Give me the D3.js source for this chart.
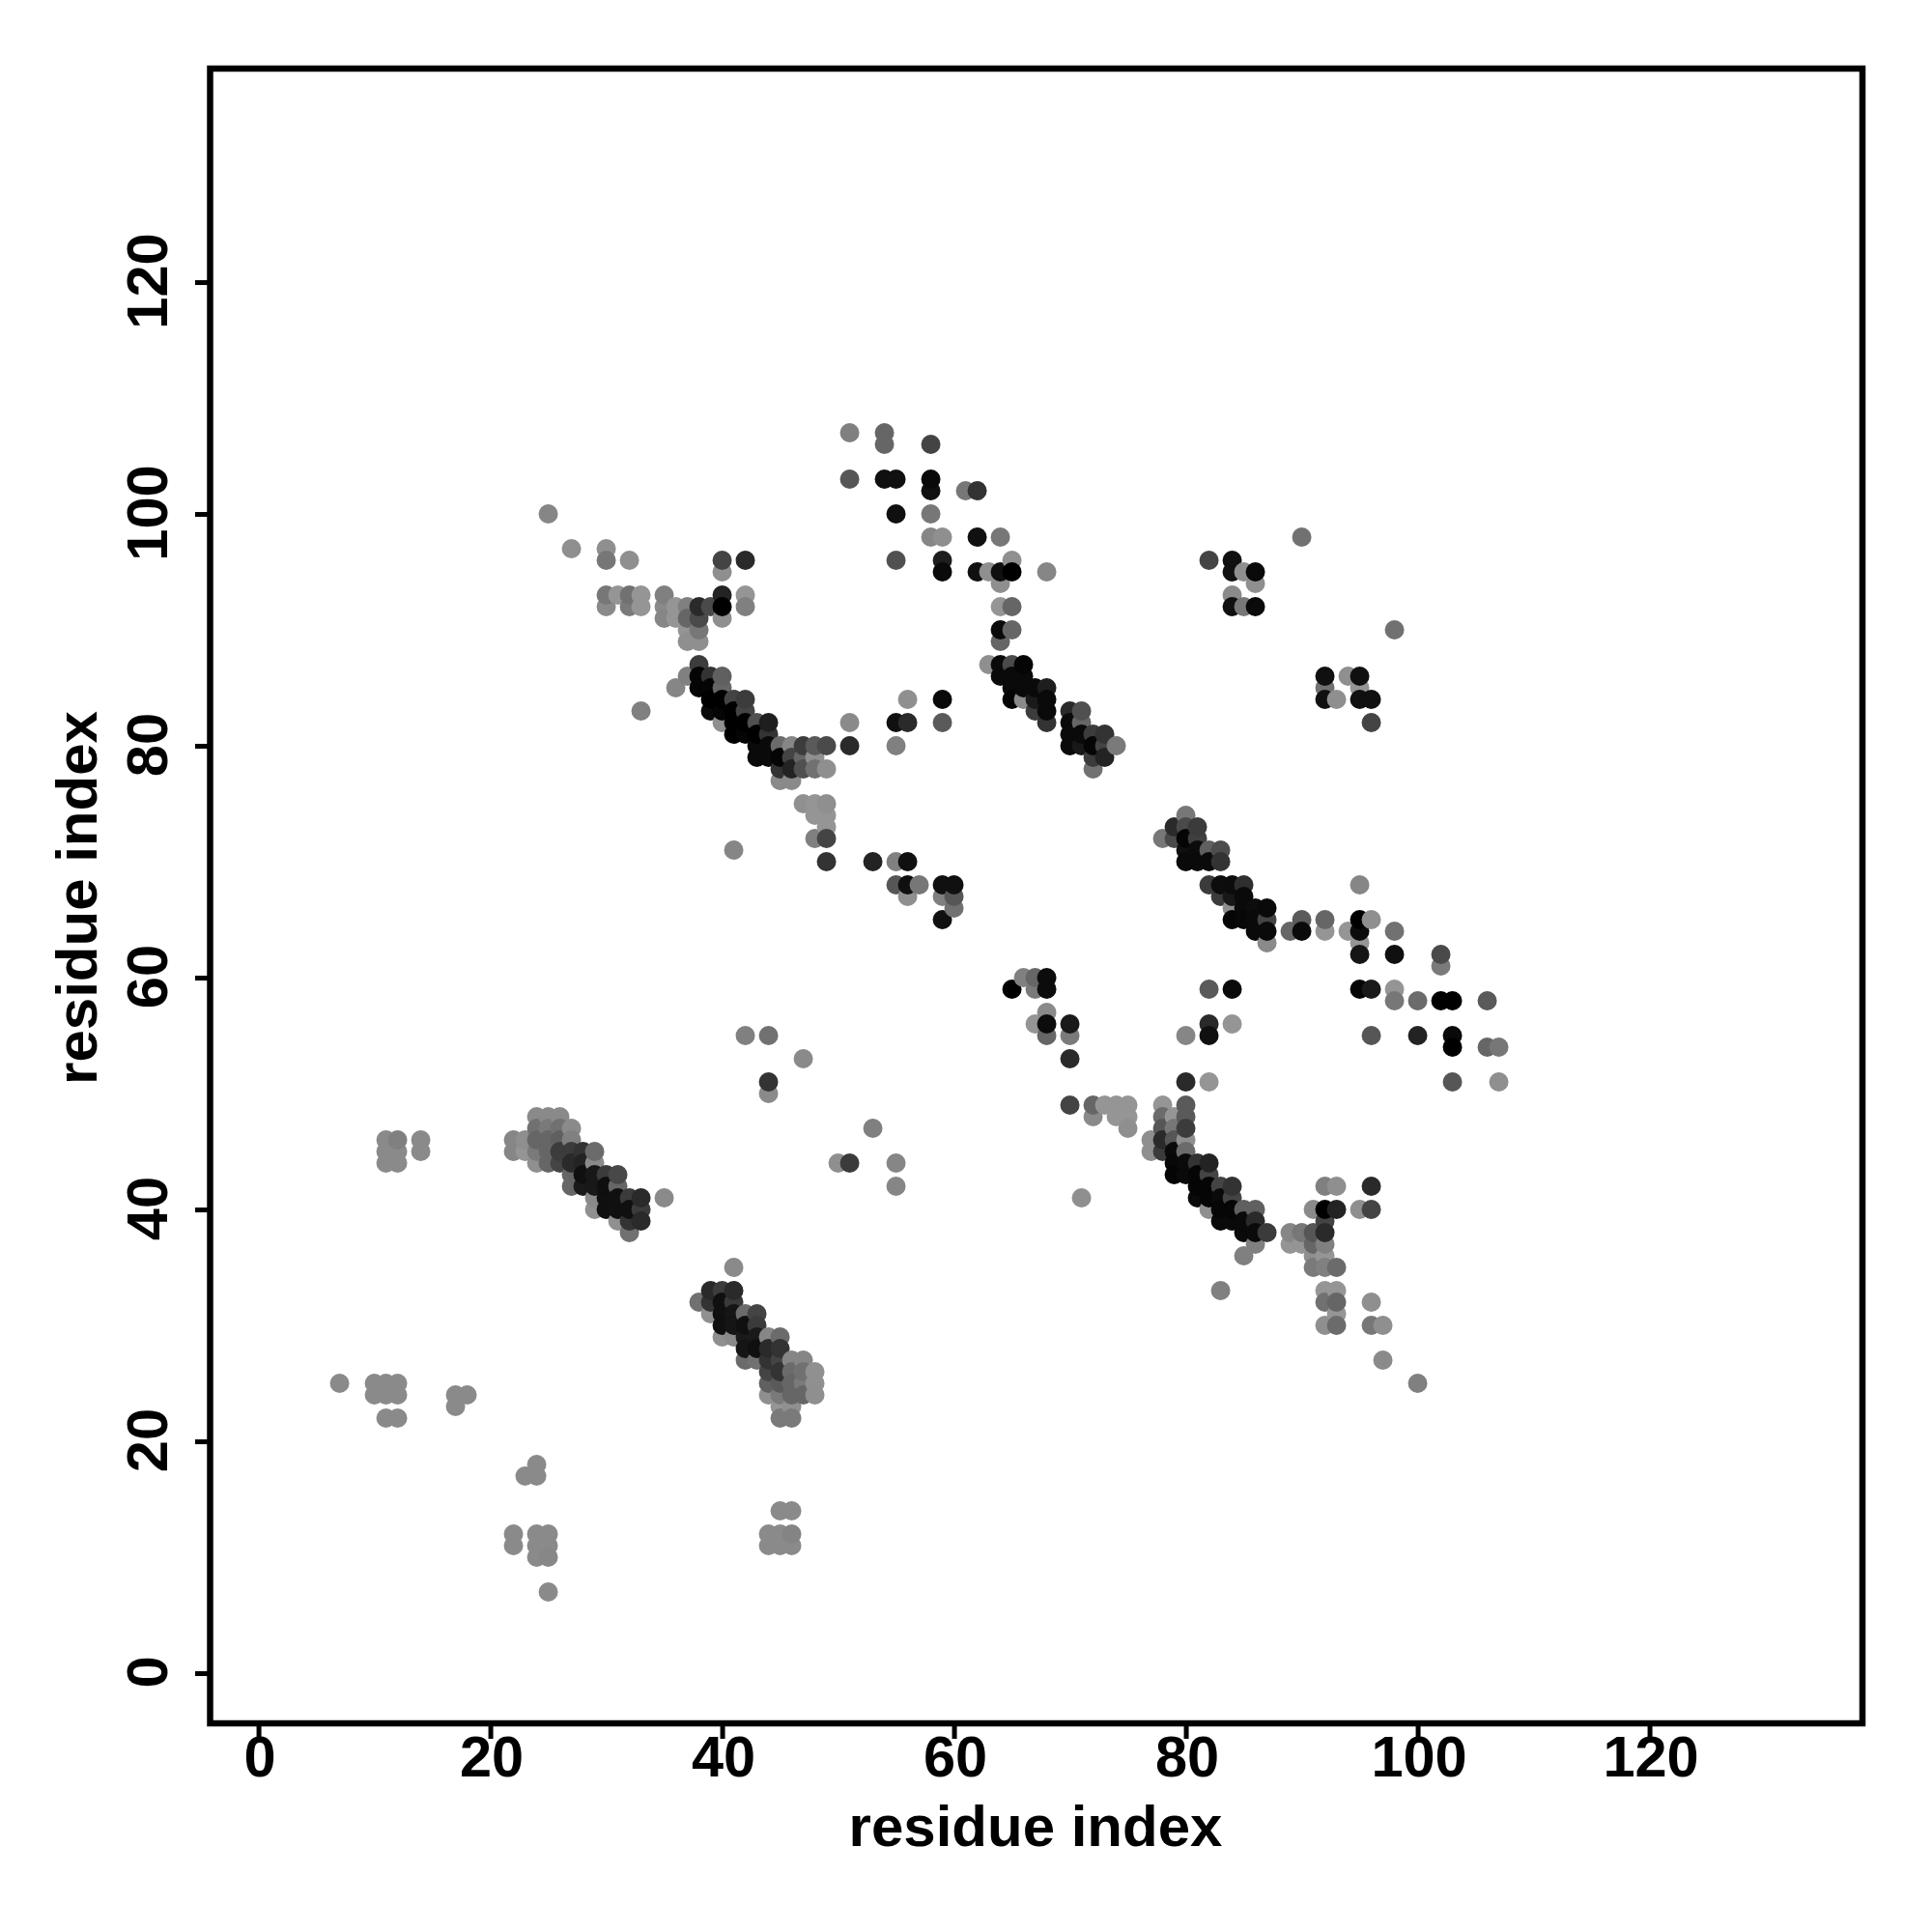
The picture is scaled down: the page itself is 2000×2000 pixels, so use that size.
<!DOCTYPE html>
<html><head><meta charset="utf-8">
<script src="https://cdn.jsdelivr.net/npm/d3@7"></script>
<style>html,body{margin:0;padding:0;background:#fff}svg{display:block}text{font-family:"Liberation Sans",Arial,sans-serif;font-weight:bold;fill:#000}</style>
</head><body><div id="chart"></div>
<script>
const tickValues = [0, 20, 40, 60, 80, 100, 120];
const xTitle = "residue index";
const yTitle = "residue index";
const rowY = [107,106,103,102,100,98,97,96,95,94,93,92,91,90,89,87,86,85,84,83,82,81,80,79,78,77,75,74,73,72,71,70,68,67,66,65,64,63,62,61,60,59,58,57,56,55,54,53,51,50,49,48,47,46,45,44,43,42,41,40,39,38,37,36,35,33,32,31,30,29,28,27,26,25,24,23,22,18,17,14,12,11,10,7];
const rowX = [
[51,54],[54,58],[51,54,55,58],[58,61,62],[25,55,58],[58,59,62,64,90],[27,30],
[30,32,40,42,55,59,65,82,84],[40,59,62,63,64,65,68,84,85,86],[64,86],
[30,31,32,33,35,40,42,84],[30,32,33,35,36,37,38,39,40,42,64,65,84,85,86],[35,36,37,38,40],
[37,38,64,65,98],[37,38,64],[38,63,64,65,66],[37,38,39,40,64,65,66,92,94,95],
[36,38,39,40,65,66,67,68,92,95],[39,40,41,42,56,59,65,66,67,68,92,93,95,96],
[33,39,40,41,42,67,68,70,71],[40,41,42,43,44,51,55,56,59,68,70,71,96],[41,42,43,44,70,71,72,73],
[43,44,45,46,47,48,49,51,55,70,71,72,73,74],[43,44,45,46,47,48,72,73],[45,46,47,48,49,72],[45,46],
[47,48,49],[48,49,80],[49,79,80,81],[48,49,78,79,80,81],[41,80,81,82,83],[49,53,55,56,80,81,82,83],
[55,56,57,59,60,82,83,84,85,95],[56,59,60,83,84,85],[60,84,85,86,87],[59,84,85,86,87,90,92,95,96],
[86,87,89,90,92,94,95,98],[87,95],[95,98,102],[102],[66,67,68],[65,67,68,82,84,95,96,98],
[98,100,102,103,106],[68],[67,68,70,82,84],[42,44,68,70,80,82,96,100,103],[103,106,107],[47,70],
[44,80,82,103,107],[44],[70,72,73,74,75,78,80],[24,25,26,72,74,75,78,79,80],[24,25,26,27,53,75,78,79,80],
[11,12,14,22,23,24,25,26,27,77,78,79,80],[11,12,14,22,23,24,25,26,27,28,29,77,78,79,80],
[11,12,24,25,26,27,28,29,50,51,55,79,80,81,82],[27,28,29,30,31,79,80,81,82],
[27,28,29,30,31,55,81,82,83,84,92,93,96],[29,30,31,32,33,35,71,81,82,83,84],
[29,30,31,32,33,82,83,84,85,86,91,92,93,95,96],[31,32,33,83,84,85,86,92],[32,85,86,87,89,90,91,92],
[86,89,90,91,92],[85,91,92],[41,91,92,93],[39,40,41,83,92,93],[38,39,40,41,92,93,96],[39,40,41,42,43,93],
[40,41,42,43,92,93,96,97],[40,41,42,43,44,45],[42,43,44,45],[42,43,44,45,46,47,97],[44,45,46,47,48],
[7,10,11,12,44,45,46,47,48,100],[10,11,12,17,18,44,45,46,47,48],[17,45,46],[11,12,45,46],[24],[23,24],[45,46],
[22,24,25,44,45,46],[22,24,25,44,45,46],[24,25],[25]
];
const rowStrength = [
[15,32],[32,55],[43,89,89,93],[89,21,66],[11,89,21],[11,5,89,21,25],[5,5],
[21,5,55,72,47,80,5,55,89],[5,93,89,5,89,100,11,89,5,93],[5,5],
[21,1,25,1,15,77,1,8],[8,19,1,8,1,15,72,51,100,15,1,32,89,21,93],[11,1,32,51,5],
[1,21,93,32,25],[5,5,32],[60,5,93,51,97],[15,97,66,36,93,93,93,89,5,89],
[11,97,97,32,93,93,93,80,25,1],[100,100,55,60,5,93,97,8,83,93,89,5,89,89],
[15,93,97,100,55,60,93,72,47],[5,100,100,47,80,8,89,72,40,66,93,32,55],[100,97,100,66,93,93,60,66],
[93,93,29,11,60,40,51,72,15,93,84,97,55,19],[93,93,97,55,32,4,61,77],[66,77,47,25,5,25],[8,8],
[4,1,5],[1,1,21],[1,72,51,61],[15,55,21,51,97,58],[11,89,92,36,49],[66,77,15,89,93,93,93,66],
[43,89,21,89,89,61,91,92,69,11],[5,15,43,61,84,93],[25,5,93,91,93],[89,97,95,93,55,40,32,100,5],
[93,93,32,93,1,1,92,25],[8,1],[86,89,51],[19],[15,32,92],[100,19,92,40,93,97,83,1],
[21,29,100,100,40],[8],[1,92,83,72,1],[15,25,32,19,11,89,43,77,93],[100,32,21],[8,72],
[66,72,1,43,5],[8],[55,32,1,1,1,1,40],[8,8,8,8,1,1,29,1,40],[25,19,25,8,15,5,43,21,60],
[8,15,8,11,5,32,32,36,15,5,72,43,5],[8,8,8,11,1,19,32,60,61,66,29,5,61,93,29],
[8,8,5,32,55,72,77,8,5,61,11,95,93,66,77],[32,89,84,61,52,97,93,97,55],
[32,83,84,90,32,11,97,97,55,66,15,5,72],[8,89,89,61,72,8,5,93,97,93,55],
[4,90,89,89,60,5,96,96,36,36,8,100,77,5,55],[4,66,72,93,93,93,72,55],[25,93,93,61,11,21,43,72],
[15,1,1,32,15],[15,5,1],[8,19,15,29],[72,60,72,15,1,1],[25,66,89,62,25,32,5],[4,89,86,29,55,1],
[89,86,89,61,5,29,21,5],[5,8,83,83,11,29],[86,89,72,66],[29,25,66,55,11,11,8],[55,66,29,25,4],
[8,8,8,8,36,40,32,19,4,15],[8,8,8,8,8,5,19,32,32,5],[8,1,4],[8,8,19,19],[8],[8,8],[8,8],
[8,8,8,8,8,12],[8,8,8,8,8,8],[8,10],[8]
];

const width = 2000, height = 2000;
const left = 218, right = 1928, top_ = 71, bottom = 1784;
const svg = d3.select("#chart").append("svg").attr("width", width).attr("height", height);
const x = d3.scaleLinear().domain([-4.13, 138.37]).range([left, right]);
const y = d3.scaleLinear().domain([-4.33, 138.42]).range([bottom, top_]);
const gray = d3.scaleLinear().domain([0, 100]).range([150, 0]);
const shade = s => { const g = Math.round(gray(s)); return `rgb(${g},${g},${g})`; };

const contacts = rowY.flatMap((yy, i) => rowX[i].map((xx, j) => ({x: xx, y: yy, s: rowStrength[i][j]})));
rowY.forEach((yy, i) => { if (rowX[i].length !== rowStrength[i].length) console.error("row mismatch", yy); });
contacts.sort((a, b) => a.x - b.x || a.s - b.s);

svg.append("g").selectAll("circle").data(contacts).join("circle")
  .attr("cx", d => x(d.x)).attr("cy", d => y(d.y)).attr("r", 10).attr("fill", d => shade(d.s));

svg.append("rect").attr("x", left - 0.5).attr("y", top_).attr("width", right - left + 0.5).attr("height", bottom - top_)
  .attr("fill", "none").attr("stroke", "#000").attr("stroke-width", 6.5);

const tickFont = 59.5, titleFont = 60;
const gx = svg.append("g").attr("transform", `translate(0,${bottom})`)
  .call(d3.axisBottom(x).tickValues(tickValues).tickSize(16).tickFormat(d3.format("d")));
const gy = svg.append("g").attr("transform", `translate(${left},0)`)
  .call(d3.axisLeft(y).tickValues(tickValues).tickSize(16).tickFormat(d3.format("d")));
[gx, gy].forEach(g => {
  g.select(".domain").remove();
  g.selectAll(".tick line").attr("stroke", "#000").attr("stroke-width", 5);
  g.selectAll(".tick text").attr("font-family", '"Liberation Sans"').attr("font-weight", "bold").attr("font-size", tickFont).attr("fill", "#000");
});
gx.selectAll(".tick text").attr("x", 1).attr("y", 55).attr("dy", 0).style("text-anchor", "middle");
gy.selectAll(".tick text").attr("x", 0).attr("y", 0).attr("dy", 0).attr("transform", "translate(-45,-1.5) rotate(-90)").style("text-anchor", "middle");

svg.append("text").attr("x", (left + right) / 2 - 1).attr("y", 1911).attr("text-anchor", "middle").attr("font-size", titleFont).text(xTitle);
svg.append("text").attr("transform", `translate(100,${(top_ + bottom) / 2 + 2}) rotate(-90)`).attr("text-anchor", "middle").attr("font-size", titleFont).text(yTitle);
</script></body></html>
